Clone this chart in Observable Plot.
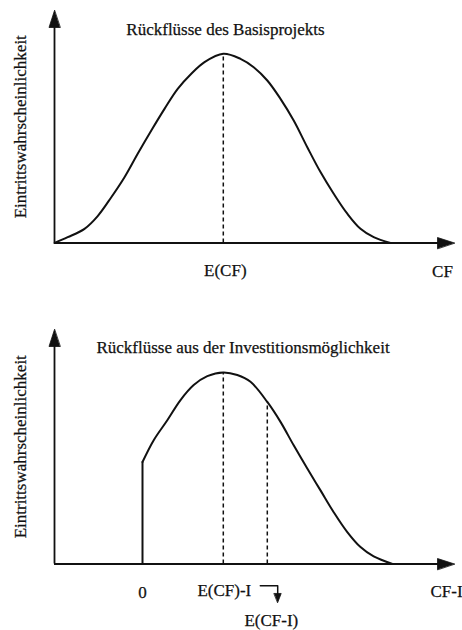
<!DOCTYPE html>
<html><head><meta charset="utf-8">
<script src="https://cdn.jsdelivr.net/npm/d3@7"></script>
<script src="https://cdn.jsdelivr.net/npm/@observablehq/plot@0.6"></script>
<style>
html,body{margin:0;padding:0;background:#fff;}
#chart svg{display:block;}
</style></head><body><div id="chart"></div>
<script>
// ---- shared ----
const yLabel = "Eintrittswahrscheinlichkeit";
const axisMax = 100;

// ---- top panel: Basisprojekt ----
const baseTitle = "Rückflüsse des Basisprojekts";
const baseX = [0, 3.3, 7.5, 10.8, 14.2, 17.5, 20.8, 24.2, 27.5, 30.8, 34.2, 37.5, 42.2, 46.5, 49.8, 53.2, 56.5, 59.8, 63.2, 66.5, 69.8, 73.2, 76.5, 79.8, 84];
const baseY = [0, 2.5, 6.1, 11.6, 19.7, 28.3, 38.4, 48.4, 57.7, 66.3, 72.8, 77.8, 81.4, 79.2, 75.6, 69.9, 62, 52.7, 41.2, 30.5, 21.2, 12.6, 6.1, 2.5, 0];
const expectedCF = 42.2;
const basePeak = 81.4;
const baseLabels = ["E(CF)", "CF"];

// ---- bottom panel: Investitionsmöglichkeit ----
const optTitle = "Rückflüsse aus der Investitionsmöglichkeit";
const optX = [22, 24.8, 28.2, 31.5, 34.8, 38.2, 42.2, 45.7, 49, 53.2, 56.5, 59.8, 63.2, 66.5, 69.8, 73.2, 76.5, 79.8, 84.5];
const optY = [43.5, 52.8, 61.3, 69.9, 76.3, 80.1, 81.7, 80.6, 77.7, 69.1, 60.6, 50.6, 40.7, 31.4, 22.1, 13.6, 7.2, 3.2, 0];
const cutoff = 22;           // CF - I = 0
const cutoffHeight = 43.5;
const expectedCFminusI = 42.2;
const optPeak = 81.7;
const expectedCFI = 53.2;
const expectedCFIHeight = 69.1;
const optLabels = ["0", "E(CF)-I", "CF-I", "E(CF-I)"];

const font = "Liberation Serif, Times New Roman, serif";
const ink = "#111";
const txt = {fill: ink, stroke: ink, strokeWidth: 0.25};

function triangle(half) {
  return {draw(ctx, l) { ctx.moveTo(0, -l); ctx.lineTo(-half, 0); ctx.lineTo(half, 0); ctx.closePath(); }};
}
function axesMarks() {
  return [
    Plot.ruleX([0], {y1: 0, y2: axisMax - 2, stroke: ink, strokeWidth: 1.8}),
    Plot.ruleY([0], {x1: 0, x2: axisMax - 2, stroke: ink, strokeWidth: 1.8}),
    Plot.vector([{x: 0, y: axisMax}], {x: "x", y: "y", length: 17, rotate: 0, anchor: "end", shape: triangle(5.5), fill: ink, stroke: ink, strokeWidth: 0.8}),
    Plot.vector([{x: axisMax, y: 0}], {x: "x", y: "y", length: 17, rotate: 90, anchor: "end", shape: triangle(5.5), fill: ink, stroke: ink, strokeWidth: 0.8}),
    Plot.text([yLabel], {frameAnchor: "left", textAnchor: "middle", dx: -34, rotate: -90, fontSize: 17, ...txt})
  ];
}

const baseData = baseX.map((x, i) => ({x, y: baseY[i]}));
const topPanel = Plot.plot({
  width: 462, height: 300,
  marginLeft: 54, marginRight: 8, marginTop: 10, marginBottom: 57.5,
  x: {domain: [0, axisMax], axis: null},
  y: {domain: [0, axisMax], axis: null},
  style: {fontFamily: font, background: "#fff", color: ink},
  marks: [
    ...axesMarks(),
    Plot.line(baseData, {x: "x", y: "y", curve: "catmull-rom", stroke: ink, strokeWidth: 2}),
    Plot.ruleX([expectedCF], {y1: 0, y2: basePeak, stroke: ink, strokeWidth: 1.5, strokeDasharray: "4,3"}),
    Plot.text([baseTitle], {frameAnchor: "top", dx: -29, dy: 12, fontSize: 17, ...txt}),
    Plot.text([baseLabels[0]], {x: [expectedCF], y: [0], dx: 2, dy: 27.5, fontSize: 17, ...txt}),
    Plot.text([baseLabels[1]], {x: [97], y: [0], dy: 28.5, fontSize: 17, ...txt})
  ]
});

const optData = optX.map((x, i) => ({x, y: optY[i]}));
const bracket = [
  {x: expectedCFI - 1.75, y: -9.3},
  {x: expectedCFI + 2.6, y: -9.3},
  {x: expectedCFI + 2.6, y: -13}
];
const bottomPanel = Plot.plot({
  width: 462, height: 330,
  marginLeft: 54, marginRight: 8, marginTop: 29, marginBottom: 66.5,
  x: {domain: [0, axisMax], axis: null},
  y: {domain: [0, axisMax], axis: null},
  style: {fontFamily: font, background: "#fff", color: ink},
  marks: [
    ...axesMarks(),
    Plot.ruleX([cutoff], {y1: 0, y2: cutoffHeight, stroke: ink, strokeWidth: 2}),
    Plot.line(optData, {x: "x", y: "y", curve: "catmull-rom", stroke: ink, strokeWidth: 2}),
    Plot.ruleX([expectedCFminusI], {y1: 0, y2: optPeak, stroke: ink, strokeWidth: 1.5, strokeDasharray: "4,3"}),
    Plot.ruleX([expectedCFI], {y1: 0, y2: expectedCFIHeight, stroke: ink, strokeWidth: 1.5, strokeDasharray: "4,3"}),
    Plot.text([optTitle], {frameAnchor: "top", dx: -11.5, dy: 11, fontSize: 17, ...txt}),
    Plot.text([optLabels[0]], {x: [cutoff], y: [0], dy: 28.5, fontSize: 17, ...txt}),
    Plot.text([optLabels[1]], {x: [expectedCFminusI], y: [0], dx: 1, dy: 27, fontSize: 17, ...txt}),
    Plot.text([optLabels[2]], {x: [98], y: [0], dy: 27.5, fontSize: 17, ...txt}),
    Plot.text([optLabels[3]], {x: [expectedCFI], y: [0], dx: 4, dy: 56.5, fontSize: 17, ...txt}),
    Plot.line(bracket, {x: "x", y: "y", stroke: ink, strokeWidth: 1.5}),
    Plot.vector([{x: expectedCFI + 2.6, y: -16.4}], {x: "x", y: "y", length: 9, rotate: 180, anchor: "end", shape: triangle(3.5), fill: ink, stroke: ink, strokeWidth: 0.8})
  ]
});

document.getElementById("chart").append(topPanel, bottomPanel);
</script>
</body></html>
